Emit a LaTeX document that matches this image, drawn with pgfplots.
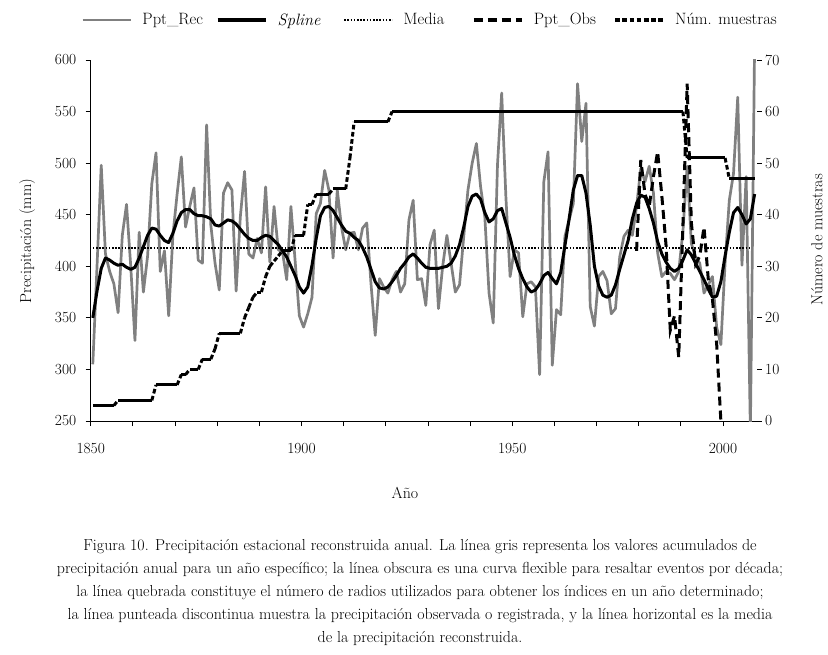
\documentclass[border=0pt]{standalone}
\usepackage{pgfplots}
\usepackage{pgfplotstable}
\pgfplotsset{compat=1.18}

\definecolor{recgray}{RGB}{128,128,128}

% precipitacion reconstruida (mm)
\pgfplotstableread{
yr v
1850 305
1851 400
1852 498
1853 412
1854 395
1855 383
1856 355
1857 430
1858 460
1859 400
1860 328
1861 433
1862 375
1863 410
1864 480
1865 510
1866 395
1867 415
1868 352
1869 430
1870 470
1871 506
1872 438
1873 458
1874 476
1875 406
1876 403
1877 537
1878 440
1879 403
1880 377
1881 471
1882 481
1883 474
1884 376
1885 448
1886 492
1887 412
1888 408
1889 427
1890 413
1891 477
1892 404
1893 458
1894 416
1895 414
1896 387
1897 458
1898 405
1899 352
1900 341
1901 354
1902 370
1903 451
1904 461
1905 493
1906 474
1907 408
1908 474
1909 438
1910 416
1911 432
1912 433
1913 416
1914 437
1915 442
1916 383
1917 333
1918 388
1919 380
1920 374
1921 387
1922 395
1923 375
1924 383
1925 445
1926 464
1927 387
1928 388
1929 362
1930 421
1931 435
1932 359
1933 400
1934 430
1935 403
1936 375
1937 382
1938 429
1939 474
1940 500
1941 519
1942 477
1943 448
1944 374
1945 345
1946 498
1947 568
1948 467
1949 390
1950 416
1951 413
1952 351
1953 383
1954 385
1955 380
1956 295
1957 482
1958 511
1959 304
1960 358
1961 353
1962 429
1963 445
1964 461
1965 577
1966 521
1967 558
1968 361
1969 342
1970 390
1971 395
1972 386
1973 354
1974 359
1975 409
1976 429
1977 435
1978 430
1979 458
1980 495
1981 482
1982 497
1983 471
1984 413
1985 390
1986 395
1987 393
1988 387
1989 395
1990 434
1991 497
1992 422
1993 409
1994 403
1995 374
1996 382
1997 390
1998 341
1999 324
2000 403
2001 464
2002 490
2003 564
2004 401
2005 487
2006 240
2007 615
}\rec

% curva spline
\pgfplotstableread{
yr v
1850 350
1851 376
1852 398
1853 408
1854 406
1855 403
1856 401
1857 402
1858 399
1859 397
1860 399
1861 408
1862 419
1863 430
1864 437
1865 436
1866 430
1867 425
1868 423
1869 432
1870 444
1871 452
1872 455
1873 455
1874 451
1875 449
1876 449
1877 448
1878 446
1879 440
1880 439
1881 442
1882 445
1883 444
1884 441
1885 436
1886 431
1887 427
1888 425
1889 425
1890 428
1891 430
1892 429
1893 425
1894 421
1895 415
1896 409
1897 400
1898 391
1899 380
1900 374
1901 380
1902 401
1903 427
1904 449
1905 457
1906 458
1907 454
1908 447
1909 440
1910 434
1911 432
1912 428
1913 425
1914 418
1915 409
1916 397
1917 385
1918 379
1919 378
1920 380
1921 385
1922 391
1923 398
1924 403
1925 409
1926 412
1927 408
1928 403
1929 399
1930 398
1931 398
1932 398
1933 399
1934 400
1935 403
1936 410
1937 421
1938 438
1939 458
1940 468
1941 470
1942 465
1943 452
1944 443
1945 446
1946 454
1947 456
1948 442
1949 428
1950 411
1951 398
1952 388
1953 380
1954 375
1955 377
1956 383
1957 391
1958 394
1959 388
1960 383
1961 394
1962 420
1963 446
1964 474
1965 488
1966 488
1967 471
1968 440
1969 400
1970 381
1971 372
1972 370
1973 372
1974 382
1975 397
1976 411
1977 425
1978 446
1979 461
1980 469
1981 467
1982 456
1983 442
1984 424
1985 412
1986 404
1987 398
1988 395
1989 398
1990 406
1991 416
1992 411
1993 403
1994 395
1995 387
1996 378
1997 370
1998 371
1999 385
2000 410
2001 433
2002 452
2003 457
2004 450
2005 441
2006 446
2007 470
}\spl

\pgfplotstableread{
yr v
1850 418
2006 418
}\media

% precipitacion observada
\pgfplotstableread{
yr v
1979 415
1980 503
1981 470
1982 458
1983 487
1984 511
1985 468
1986 420
1987 338
1988 352
1989 312
1990 440
1991 577
1992 442
1993 402
1994 410
1995 438
1996 388
1997 368
1998 325
1999 250
}\obs

% numero de muestras: valor del anno y del anno siguiente (un tramo por fila)
\pgfplotstableread{
yr n nx
1850 3 3
1851 3 3
1852 3 3
1853 3 3
1854 3 3
1855 3 4
1856 4 4
1857 4 4
1858 4 4
1859 4 4
1860 4 4
1861 4 4
1862 4 4
1863 4 4
1864 4 7
1865 7 7
1866 7 7
1867 7 7
1868 7 7
1869 7 7
1870 7 9
1871 9 9
1872 9 10
1873 10 10
1874 10 10
1875 10 12
1876 12 12
1877 12 12
1878 12 14
1879 14 17
1880 17 17
1881 17 17
1882 17 17
1883 17 17
1884 17 17
1885 17 20
1886 20 22
1887 22 24
1888 24 25
1889 25 25
1890 25 28
1891 28 30
1892 30 31
1893 31 32
1894 32 33
1895 33 33
1896 33 33
1897 33 36
1898 36 36
1899 36 36
1900 36 42
1901 42 42
1902 42 44
1903 44 44
1904 44 44
1905 44 44
1906 44 45
1907 45 45
1908 45 45
1909 45 45
1910 45 51
1911 51 58
1912 58 58
1913 58 58
1914 58 58
1915 58 58
1916 58 58
1917 58 58
1918 58 58
1919 58 58
1920 58 60
1921 60 60
1922 60 60
1923 60 60
1924 60 60
1925 60 60
1926 60 60
1927 60 60
1928 60 60
1929 60 60
1930 60 60
1931 60 60
1932 60 60
1933 60 60
1934 60 60
1935 60 60
1936 60 60
1937 60 60
1938 60 60
1939 60 60
1940 60 60
1941 60 60
1942 60 60
1943 60 60
1944 60 60
1945 60 60
1946 60 60
1947 60 60
1948 60 60
1949 60 60
1950 60 60
1951 60 60
1952 60 60
1953 60 60
1954 60 60
1955 60 60
1956 60 60
1957 60 60
1958 60 60
1959 60 60
1960 60 60
1961 60 60
1962 60 60
1963 60 60
1964 60 60
1965 60 60
1966 60 60
1967 60 60
1968 60 60
1969 60 60
1970 60 60
1971 60 60
1972 60 60
1973 60 60
1974 60 60
1975 60 60
1976 60 60
1977 60 60
1978 60 60
1979 60 60
1980 60 60
1981 60 60
1982 60 60
1983 60 60
1984 60 60
1985 60 60
1986 60 60
1987 60 60
1988 60 60
1989 60 60
1990 60 51
1991 51 51
1992 51 51
1993 51 51
1994 51 51
1995 51 51
1996 51 51
1997 51 51
1998 51 51
1999 51 51
2000 51 47
2001 47 47
2002 47 47
2003 47 47
2004 47 47
2005 47 47
2006 47 47
}\mues

\pgfplotsset{
  common/.style={
    at={(0,0)}, anchor=south west,
    scale only axis, width=666bp, height=361bp,
    xmin=1849.5, xmax=2007.5,
    tick align=outside, major tick length=5bp,
    tick style={black, line width=0.8bp},
    ticklabel style={font=\fontsize{15.5}{18}\selectfont},
    label style={font=\fontsize{16}{19}\selectfont},
    /pgf/number format/assume math mode=true,
  },
}

\begin{document}
\begin{tikzpicture}
\useasboundingbox (-90.7bp,-234bp) rectangle (737.3bp,421bp);

\begin{axis}[common,
  ymin=250, ymax=600,
  axis x line*=bottom, axis y line*=left,
  axis line style={-, line width=0.8bp},
  every outer x axis line/.append style={-},
  every outer y axis line/.append style={-},
  xtick pos=bottom, ytick pos=left,
  xtick={1849.5,1859.5,1869.5,1879.5,1889.5,1899.5,1909.5,1919.5,1929.5,1939.5,1949.5,1959.5,1969.5,1979.5,1989.5,1999.5},
  xticklabels={1850,,,,,1900,,,,,1950,,,,,2000},
  xticklabel style={yshift=-14bp},
  yticklabel style={xshift=-6bp},
  ytick={250,300,...,600},
  xlabel={Año},
  xlabel style={at={(rel axis cs:0.4719,-0.1994)}, anchor=center},
  ylabel={Precipitación (mm)},
  ylabel style={at={(rel axis cs:-0.0956,0.4986)}, anchor=center},
  legend columns=5,
  legend style={at={(-0.0146,1.1108)}, anchor=west, draw=none, fill=none,
    inner sep=0pt, font=\fontsize{16.5}{19}\selectfont,
    /tikz/every odd column/.append style={column sep=8.6bp},
    /tikz/every even column/.append style={column sep=0bp}},
  legend image code/.code={\draw[#1] (0bp,0bp) -- (48bp,0bp);},
]
\addplot[recgray, line width=2.7bp, line join=round] table[x=yr, y=v] {\rec};
\addlegendentry{\makebox[71.7bp][l]{Ppt\_Rec}}
\addplot[black, line width=3bp, line join=round] table[x=yr, y=v] {\spl};
\addlegendentry{\makebox[63.7bp][l]{\textit{Spline}}}
\addplot[black, line width=1.6bp, dash pattern=on 1.6bp off 1.6bp] table[x=yr, y=v] {\media};
\addlegendentry{\makebox[66.7bp][l]{Media}}
\addplot[black, line width=3bp, dash pattern=on 9bp off 5bp] table[x=yr, y=v] {\obs};
\addlegendentry{\makebox[77.7bp][l]{Ppt\_Obs}}
\addlegendimage{black, line width=3bp, dash pattern=on 4.6bp off 2.6bp}
\addlegendentry{Núm. muestras}
\end{axis}

\begin{axis}[common,
  ymin=0, ymax=70,
  axis x line=none, axis y line*=right,
  y axis line style={draw=none, -},
  ytick pos=right,
  ytick={0,10,...,70},
  ylabel={Número de muestras},
  ylabel style={at={(rel axis cs:1.0905,0.5014)}, anchor=center},
]
% cada tramo anual se dibuja aparte, como en el original
\addplot[black, line width=3bp, dash pattern=on 4.6bp off 2.6bp,
  quiver={u=1, v=\thisrow{nx}-\thisrow{n}}] table[x=yr, y=n] {\mues};
\end{axis}

\begin{scope}[font=\fontsize{16}{19}\selectfont]
\node[anchor=base] at (329.3bp,-129bp) {Figura 10. Precipitación estacional reconstruida anual. La línea gris representa los valores acumulados de};
\node[anchor=base] at (329.3bp,-152bp) {precipitación anual para un año específico; la línea obscura es una curva flexible para resaltar eventos por década;};
\node[anchor=base] at (329.3bp,-175bp) {la línea quebrada constituye el número de radios utilizados para obtener los índices en un año determinado;};
\node[anchor=base] at (329.3bp,-198bp) {la línea punteada discontinua muestra la precipitación observada o registrada, y la línea horizontal es la media};
\node[anchor=base] at (329.3bp,-221bp) {de la precipitación reconstruida.};
\end{scope}
\end{tikzpicture}
\end{document}
